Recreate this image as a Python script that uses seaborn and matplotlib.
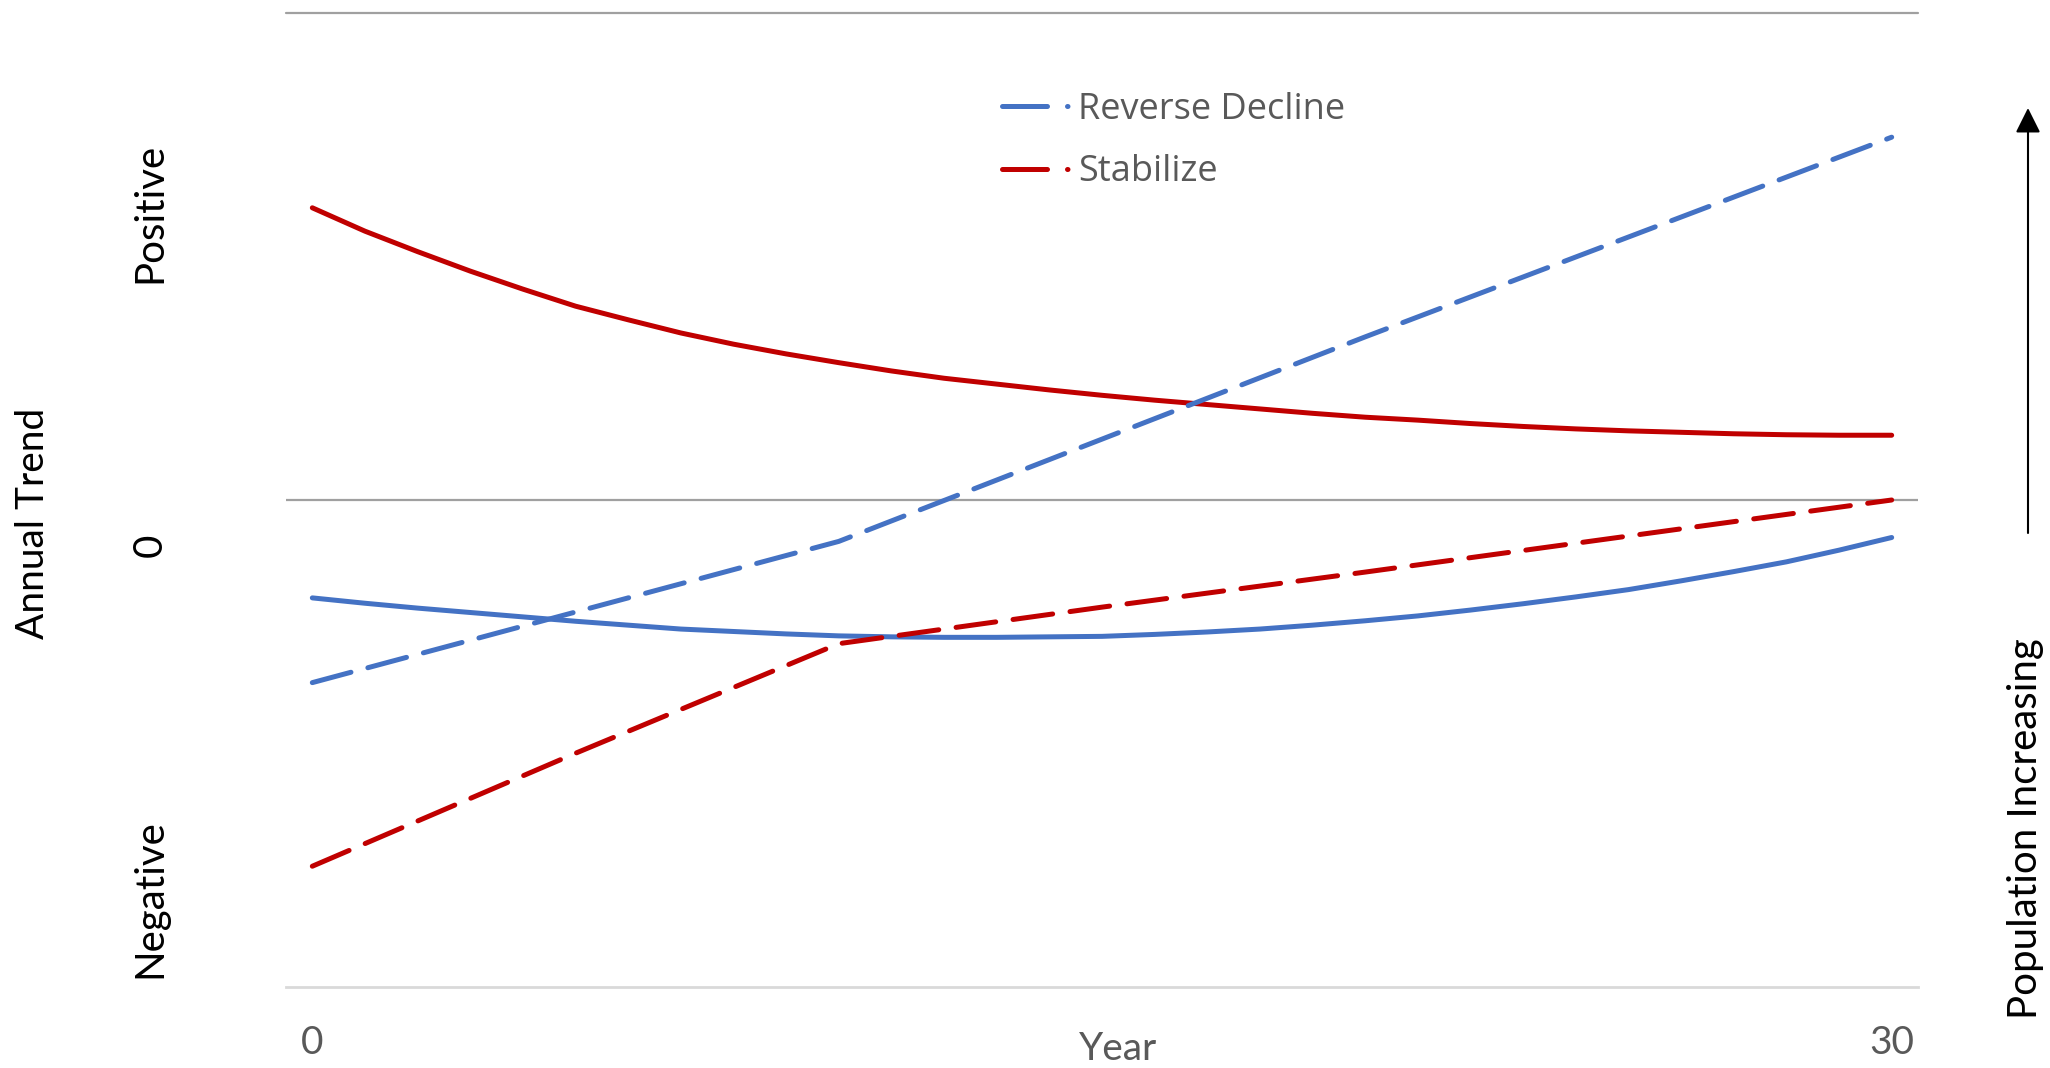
import pandas as pd
import matplotlib
matplotlib.use("Agg")
import matplotlib.pyplot as plt
import seaborn as sns
from matplotlib.lines import Line2D

# data (y: -1 = Negative, 0, 1 = Positive)
years = list(range(0, 31))
reverse_decline_solid = [-0.201, -0.212, -0.222, -0.231, -0.240, -0.249, -0.257, -0.265,
                         -0.270, -0.275, -0.279, -0.281, -0.282, -0.282, -0.281, -0.280,
                         -0.276, -0.271, -0.265, -0.257, -0.248, -0.238, -0.226, -0.213,
                         -0.199, -0.184, -0.166, -0.147, -0.127, -0.103, -0.077]
stabilize_solid = [0.600, 0.552, 0.510, 0.470, 0.433, 0.398, 0.370, 0.343, 0.320, 0.300,
                   0.282, 0.265, 0.250, 0.238, 0.226, 0.215, 0.205, 0.196, 0.187, 0.178,
                   0.170, 0.164, 0.157, 0.151, 0.146, 0.142, 0.139, 0.136, 0.134, 0.133,
                   0.133]
dash_years = [0, 5, 10, 15, 20, 25, 30]
reverse_decline_dashed = [-0.375, -0.230, -0.085, 0.125, 0.335, 0.540, 0.745]
stabilize_dashed = [-0.752, -0.520, -0.295, -0.220, -0.148, -0.074, 0.0]

series_labels = ["Reverse Decline", "Stabilize"]
BLUE = "#4472C4"
RED = "#C00000"
GREY_TXT = "#595959"

narrow = ["Liberation Sans Narrow", "Lato"]
legend_font = ["Open Sans", "DejaVu Sans"]

sns.set_style("white")

fig = plt.figure(figsize=(20.5, 10.68), dpi=100)
ax = fig.add_axes([286 / 2050, 1 - 987 / 1068, (1918 - 286) / 2050, (987 - 13) / 1068])

LW = 3.6
DASH = (8, 3.5)

sns.lineplot(x=years, y=reverse_decline_solid, ax=ax, color=BLUE, linewidth=LW)
sns.lineplot(x=years, y=stabilize_solid, ax=ax, color=RED, linewidth=LW)
sns.lineplot(x=dash_years, y=reverse_decline_dashed, ax=ax, color=BLUE, linewidth=LW)
sns.lineplot(x=dash_years, y=stabilize_dashed, ax=ax, color=RED, linewidth=LW)
# dashed style for the last two lines
for ln in ax.get_lines()[2:4]:
    ln.set_dashes(DASH)
    ln.set_dash_capstyle("round")
for ln in ax.get_lines():
    ln.set_solid_capstyle("round")

ax.set_xlim(-0.5, 30.5)
ax.set_ylim(-1, 1)

# gridlines at top and zero, light axis at bottom
ax.axhline(1, color="#A0A0A0", lw=1.6, zorder=0, clip_on=False)
ax.axhline(0, color="#A0A0A0", lw=1.6, zorder=0)
for s in ["top", "right", "left"]:
    ax.spines[s].set_visible(False)
ax.spines["bottom"].set_color("#D9D9D9")
ax.spines["bottom"].set_linewidth(2)

ax.set_yticks([])
ax.set_xticks([0, 30])
ax.set_xticklabels(["0", "30"], fontsize=28, color=GREY_TXT, family=narrow)
ax.tick_params(axis="x", length=0, pad=27)

ax.set_xlabel("Year", fontsize=28, color=GREY_TXT, family=narrow, va="center")
ax.xaxis.set_label_coords((1118 - 286) / 1632, -62 / 974)

# y-side labels
ytr = ax.get_yaxis_transform()
for txt, yv in [("Positive", 0.59), ("0", -0.093), ("Negative", -0.818)]:
    ax.text(-136 / 1632, yv, txt, transform=ytr, rotation=90, ha="center", va="center",
            fontsize=29, family=narrow, color="black")

fig.text(33 / 2050, 1 - 523 / 1068, "Annual Trend", rotation=90, ha="center", va="center",
         fontsize=28, family=narrow, color="black")
fig.text(2026 / 2050, 1 - 829 / 1068, "Population Increasing", rotation=90, ha="center",
         va="center", fontsize=29, family=narrow, color="black")
ax.annotate("", xy=(2028 / 2050, 1 - 108 / 1068), xycoords="figure fraction",
            xytext=(2028 / 2050, 1 - 533 / 1068), textcoords="figure fraction",
            arrowprops=dict(arrowstyle="-|>", color="black", lw=1.5, mutation_scale=38,
                            shrinkA=0, shrinkB=0))

# legend (Excel style handle: dash then dot)
handles = [Line2D([0], [0], color=c, lw=LW, dashes=(9, 4, 0.1, 30), dash_capstyle="round")
           for c in [BLUE, RED]]
leg = ax.legend(handles, series_labels, loc="upper left",
                bbox_to_anchor=(984 / 2050, 1 - 74 / 1068), bbox_transform=fig.transFigure,
                frameon=False, handlelength=1.95, handletextpad=0.15, borderpad=0,
                labelspacing=0.73, prop={"family": legend_font, "size": 26})
for t in leg.get_texts():
    t.set_color(GREY_TXT)

fig.savefig("out.png", dpi=100)
